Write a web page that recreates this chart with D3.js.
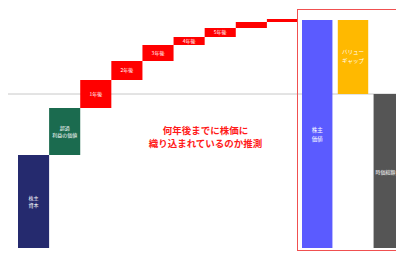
<!DOCTYPE html>
<html>
<head>
<meta charset="utf-8">
<script src="https://cdn.jsdelivr.net/npm/d3@7"></script>
<style>
body { margin:0; background:#fff; }
svg { display:block; font-family:"Noto Sans CJK JP", sans-serif; }
</style>
</head>
<body>
<svg></svg>
<script>
// waterfall: equity + excess value + yearly steps
var stepNames = ["株主資本", "付加価値", "1年後", "2年後", "3年後", "4年後", "5年後", "6年後", "7年後"];
var stepValues = [93, 47, 28, 19, 16, 8, 9, 6, 3];
var stepLabels = [["株主", "資本"], ["超過", "利益の価値"], ["1年後"], ["2年後"], ["3年後"], ["4年後"], ["5年後"], [], []];
var stepColors = ["#252a6e", "#1b6b4f", "#ff0000", "#ff0000", "#ff0000", "#ff0000", "#ff0000", "#ff0000", "#ff0000"];

var rightNames = ["株主価値", "バリューギャップ", "時価総額"];
var rightLow = [0, 154, 0];
var rightHigh = [228, 228, 154];
var rightLabels = [["株主", "価値"], ["バリュー", "ギャップ"], ["時価総額"]];
var rightColors = ["#5b5bff", "#ffb900", "#555555"];

var marketCap = 154;
var note = ["何年後までに株価に", "織り込まれているのか推測"];

var svgWidth = 396, svgHeight = 253;
var svg = d3.select("svg").attr("width", svgWidth).attr("height", svgHeight);

var y = d3.scaleLinear().domain([0, 228]).range([248, 20]);
var x = d3.scaleBand().domain(stepNames).range([18, 298]).padding(0);
var x2 = d3.scaleBand().domain(rightNames).range([302, 404]).paddingInner(0.15).paddingOuter(0);

// cumulative bases
var data = [];
var acc = 0;
stepNames.forEach(function(n, i) {
	data.push({name: n, low: acc, high: acc + stepValues[i], label: stepLabels[i], color: stepColors[i]});
	acc += stepValues[i];
});

// baseline at market cap
svg.append("line")
	.attr("x1", 8).attr("x2", svgWidth)
	.attr("y1", y(marketCap)).attr("y2", y(marketCap))
	.attr("stroke", "#c8c8c8").attr("stroke-width", 1);

svg.selectAll("rect.step")
	.data(data)
	.enter().append("rect")
	.attr("class", "step")
	.attr("x", function(d) { return x(d.name); })
	.attr("width", x.bandwidth())
	.attr("y", function(d) { return y(d.high); })
	.attr("height", function(d) { return y(d.low) - y(d.high); })
	.attr("fill", function(d) { return d.color; });

data.forEach(function(d) {
	var cx = x(d.name) + x.bandwidth() / 2;
	var cy = (y(d.low) + y(d.high)) / 2;
	var n = d.label.length;
	d.label.forEach(function(t, j) {
		svg.append("text")
			.attr("x", cx)
			.attr("y", cy + (j - (n - 1) / 2) * 7.5)
			.attr("dy", "0.35em")
			.attr("text-anchor", "middle")
			.attr("fill", "#fff")
			.attr("font-size", "5px")
			.text(t);
	});
});

// red frame round the result bars
svg.append("rect")
	.attr("x", 297.5).attr("y", 9.5)
	.attr("width", 110).attr("height", 241)
	.attr("fill", "none")
	.attr("stroke", "#f05050").attr("stroke-width", 1);

rightNames.forEach(function(n, i) {
	svg.append("rect")
		.attr("x", x2(n))
		.attr("width", x2.bandwidth())
		.attr("y", y(rightHigh[i]))
		.attr("height", y(rightLow[i]) - y(rightHigh[i]))
		.attr("fill", rightColors[i]);
});

// label centres (value units)
var labelY = [y(113), y(191), y(76)];
rightNames.forEach(function(n, i) {
	var last = i == rightNames.length - 1;
	var cx = last ? x2(n) + 2 : x2(n) + x2.bandwidth() / 2;
	var lines = rightLabels[i];
	lines.forEach(function(t, j) {
		svg.append("text")
			.attr("x", cx)
			.attr("y", labelY[i] + (j - (lines.length - 1) / 2) * 9)
			.attr("dy", "0.35em")
			.attr("text-anchor", last ? "start" : "middle")
			.attr("fill", "#fff")
			.attr("font-size", last ? "5px" : "5.5px")
			.text(t);
	});
});

note.forEach(function(t, j) {
	svg.append("text")
		.attr("x", 205.5)
		.attr("y", 131 + j * 13)
		.attr("dy", "0.35em")
		.attr("text-anchor", "middle")
		.attr("fill", "#ff1a1a")
		.attr("font-weight", "bold")
		.attr("font-size", "9.5px")
		.text(t);
});
</script>
</body>
</html>
